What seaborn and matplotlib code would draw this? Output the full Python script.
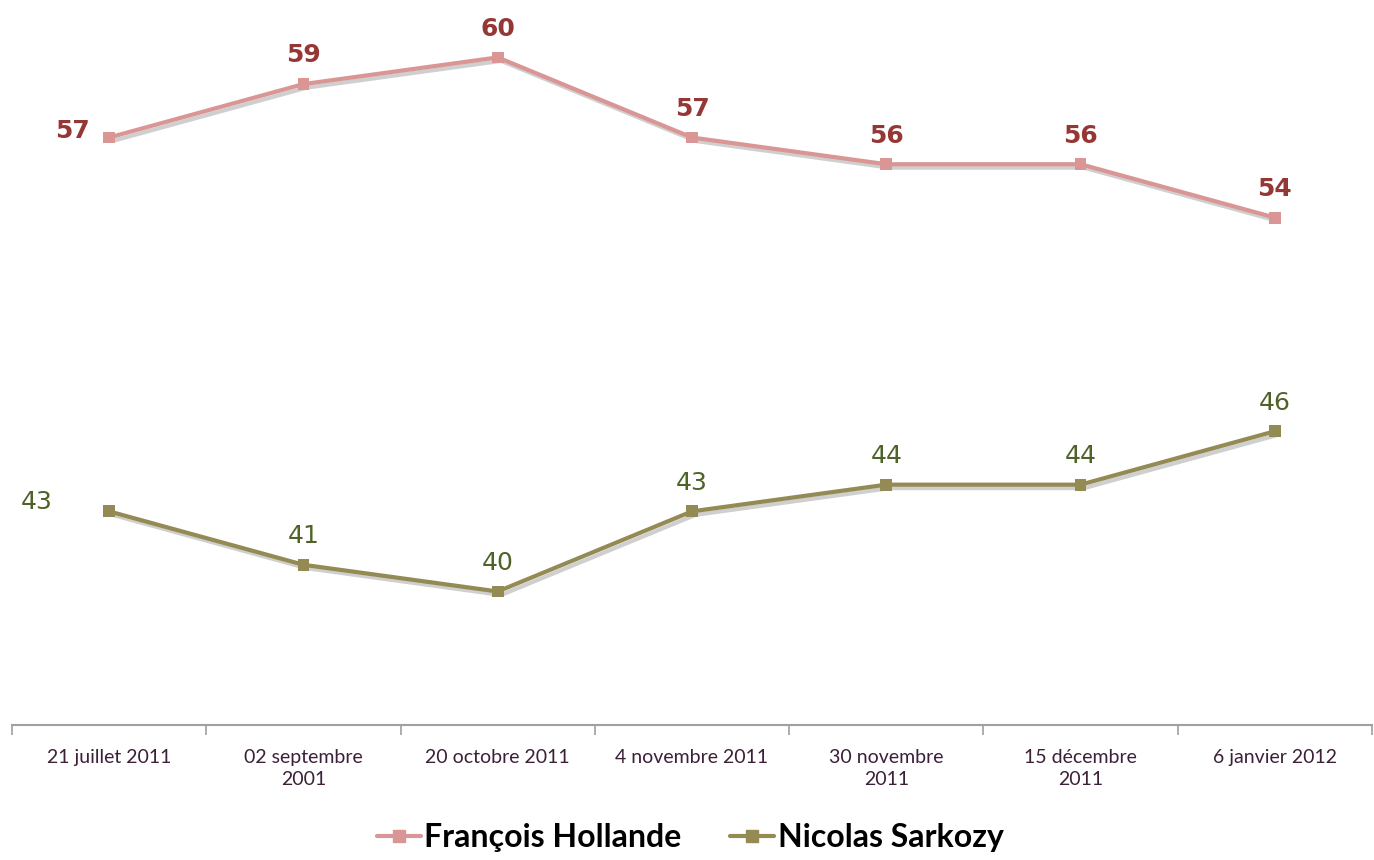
import matplotlib
matplotlib.use("Agg")
import matplotlib.pyplot as plt
import matplotlib.patheffects as pe
from matplotlib.lines import Line2D
import seaborn as sns
import pandas as pd

categories = ["21 juillet 2011", "02 septembre\n2001", "20 octobre 2011", "4 novembre 2011",
              "30 novembre\n2011", "15 décembre\n2011", "6 janvier 2012"]
hollande = [57, 59, 60, 57, 56, 56, 54]
sarkozy = [43, 41, 40, 43, 44, 44, 46]
series_names = ["François Hollande", "Nicolas Sarkozy"]

line_colors = {"François Hollande": "#D99694", "Nicolas Sarkozy": "#948A54"}
label_colors = {"François Hollande": "#953735", "Nicolas Sarkozy": "#4F6228"}

df = pd.DataFrame({
    "x": list(range(len(categories))) * 2,
    "value": hollande + sarkozy,
    "serie": [series_names[0]] * len(categories) + [series_names[1]] * len(categories),
})

sns.set_style("white")
plt.rcParams['font.family'] = ['Lato', 'DejaVu Sans']

fig = plt.figure(figsize=(13.74, 8.6), dpi=100)
ax = fig.add_axes([12/1374, 135/860, 1360/1374, 721/860])

shadow = [pe.SimpleLineShadow(offset=(2.5, -2.5), shadow_color="#777777", alpha=0.35), pe.Normal()]
sns.lineplot(data=df, x="x", y="value", hue="serie", palette=line_colors, marker="s",
             markersize=8.5, markeredgewidth=0, linewidth=3, legend=False, ax=ax)
for ln in ax.lines:
    ln.set_path_effects(shadow)

first_offsets = {"François Hollande": (-14, 5), "Nicolas Sarkozy": (-41, 7)}
for name, vals in zip(series_names, [hollande, sarkozy]):
    for i, v in enumerate(vals):
        wt = "bold" if name == series_names[0] else "normal"
        if i == 0:
            ax.annotate(str(v), (i, v), xytext=first_offsets[name], textcoords="offset points",
                        ha="right", va="center", fontsize=18, fontweight=wt,
                        family="DejaVu Sans", color=label_colors[name])
        else:
            ax.annotate(str(v), (i, v), xytext=(0, 12), textcoords="offset points",
                        ha="center", va="bottom", fontsize=18, fontweight=wt,
                        family="DejaVu Sans", color=label_colors[name])

ax.set_xlim(-0.5, len(categories) - 0.5)
ax.set_ylim(35, 62)
ax.set_yticks([])
ax.set_xticks(range(len(categories)))
ax.set_xticklabels(categories, fontsize=14, color="#3B2038", linespacing=1.4)
ax.set_xticks([i - 0.5 for i in range(len(categories) + 1)], minor=True)
ax.tick_params(axis="x", which="major", length=0, pad=17)
ax.tick_params(axis="x", which="minor", bottom=True, length=7, width=1.2, color="#A0A0A0", direction="out")
ax.set_xlabel("")
ax.set_ylabel("")
for s in ["top", "left", "right"]:
    ax.spines[s].set_visible(False)
ax.spines["bottom"].set_color("#A0A0A0")
ax.spines["bottom"].set_linewidth(1.5)

handles = [Line2D([], [], color=line_colors[n], marker="s", markersize=8, linewidth=3) for n in series_names]
leg = fig.legend(handles, series_names, loc="center", bbox_to_anchor=(690/1374, 1 - 838/860), ncol=2,
                 frameon=False, prop={"size": 23, "weight": "bold"}, handlelength=1.4, handletextpad=0.1,
                 columnspacing=1.5)
for t in leg.get_texts():
    t.set_color("black")

fig.savefig("out.png", dpi=100)
